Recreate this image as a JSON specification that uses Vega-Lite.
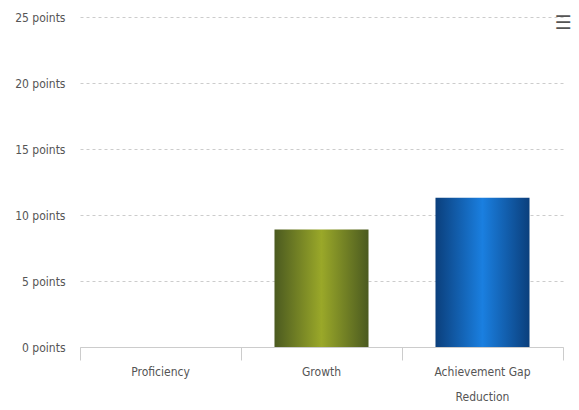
{
  "$schema": "https://vega.github.io/schema/vega-lite/v6.json",
  "autosize": "none",
  "width": 483,
  "height": 330,
  "padding": {"left": 80, "top": 17, "right": 16, "bottom": 63},
  "background": "white",
  "title": {
    "text": "☰",
    "anchor": "end",
    "orient": "top",
    "offset": -22,
    "dx": 8,
    "fontSize": 19,
    "color": "#555555",
    "font": "DejaVu Sans",
    "fontWeight": "bold"
  },
  "config": {
    "view": {"stroke": null},
    "axis": {
      "labelFont": "DejaVu Sans Condensed, DejaVu Sans, sans-serif",
      "labelFontSize": 12,
      "labelColor": "#555555"
    }
  },
  "data": {
    "values": [
      {"category": "Proficiency", "points": 0},
      {"category": "Growth", "points": 8.9},
      {"category": "Achievement Gap Reduction", "points": 11.3}
    ]
  },
  "mark": {"type": "bar", "width": {"band": 0.584}},
  "encoding": {
    "x": {
      "field": "category",
      "type": "nominal",
      "sort": null,
      "scale": {"paddingInner": 0, "paddingOuter": 0},
      "axis": {
        "title": null,
        "labelAngle": 0,
        "domainColor": "#cccccc",
        "tickColor": "#cccccc",
        "tickSize": 13,
        "bandPosition": 1,
        "tickExtra": true,
        "labelPadding": 6,
        "labelLineHeight": 25,
        "labelBaseline": "top",
        "labelExpr": "datum.label == 'Achievement Gap Reduction' ? ['Achievement Gap', 'Reduction'] : datum.label"
      }
    },
    "y": {
      "field": "points",
      "type": "quantitative",
      "scale": {"domain": [0, 25], "nice": false},
      "axis": {
        "title": null,
        "values": [0, 5, 10, 15, 20, 25],
        "domain": false,
        "ticks": false,
        "labelPadding": 15,
        "labelExpr": "datum.value + ' points'",
        "gridColor": "#cccccc",
        "gridDash": [3, 3]
      }
    },
    "color": {
      "condition": {
        "test": "datum.category == 'Growth'",
        "value": {
          "gradient": "linear",
          "x1": 0, "x2": 1, "y1": 0, "y2": 0,
          "stops": [
            {"offset": 0, "color": "#4b5a20"},
            {"offset": 0.5, "color": "#9aa829"},
            {"offset": 1, "color": "#4b5a20"}
          ]
        }
      },
      "value": {
        "gradient": "linear",
        "x1": 0, "x2": 1, "y1": 0, "y2": 0,
        "stops": [
          {"offset": 0, "color": "#0b3f7c"},
          {"offset": 0.5, "color": "#1a7fe0"},
          {"offset": 1, "color": "#0b3f7c"}
        ]
      }
    }
  }
}
